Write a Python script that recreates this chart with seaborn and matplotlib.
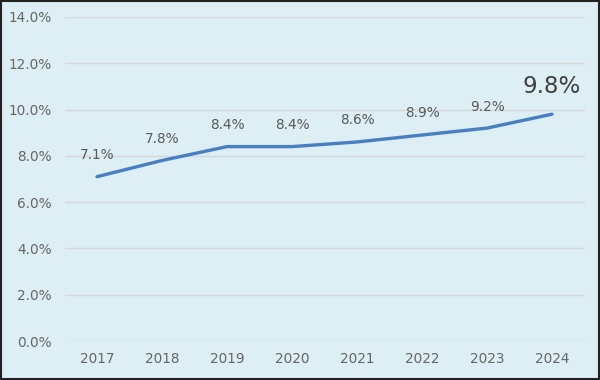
import matplotlib.pyplot as plt
import numpy as np
import pandas as pd
import seaborn as sns

years = ["2017", "2018", "2019", "2020", "2021", "2022", "2023", "2024"]
rates = [7.1, 7.8, 8.4, 8.4, 8.6, 8.9, 9.2, 9.8]
labels = ["7.1%", "7.8%", "8.4%", "8.4%", "8.6%", "8.9%", "9.2%", "9.8%"]

bg = "#ddeef4"
sns.set_theme(style="white")
plt.rcParams["font.family"] = ["DejaVu Sans"]

df = pd.DataFrame({"year": years, "rate": rates})

fig = plt.figure(figsize=(6, 3.8), dpi=100, facecolor=bg)
ax = fig.add_axes([0.1075, 0.1026, 0.8667, 0.8527])
ax.set_facecolor(bg)

sns.lineplot(data=df, x="year", y="rate", ax=ax, color="#4a7ec2",
             linewidth=2.4, sort=False)

ax.set_xlim(-0.5, len(years) - 0.5)
ax.set_ylim(0, 14)
ax.set_yticks(np.arange(0, 15, 2))
ax.set_yticklabels([f"{v:.1f}%" for v in np.arange(0, 15, 2)])
ax.grid(axis="y", color="#d5d9dc", linewidth=1)
ax.set_axisbelow(True)
for s in ax.spines.values():
    s.set_visible(False)
ax.tick_params(axis="y", length=0, labelsize=9.8, labelcolor="#666666", pad=9)
ax.tick_params(axis="x", length=0, labelsize=9.8, labelcolor="#666666", pad=8)
ax.set_xlabel("")
ax.set_ylabel("")

for i, (v, t) in enumerate(zip(rates, labels)):
    if i == len(rates) - 1:
        ax.annotate(t, (i, v), xytext=(0, 20), textcoords="offset points",
                    ha="center", va="center", fontsize=16.5, color="#404040")
    else:
        ax.annotate(t, (i, v), xytext=(0, 15.5), textcoords="offset points",
                    ha="center", va="center", fontsize=9.8, color="#595959")

border = plt.Rectangle((0.001, 0.002), 0.997, 0.995, transform=fig.transFigure,
                       fill=False, edgecolor="#222222", linewidth=1.5)
fig.patches.append(border)

fig.savefig("out.png", dpi=100, facecolor=bg)
